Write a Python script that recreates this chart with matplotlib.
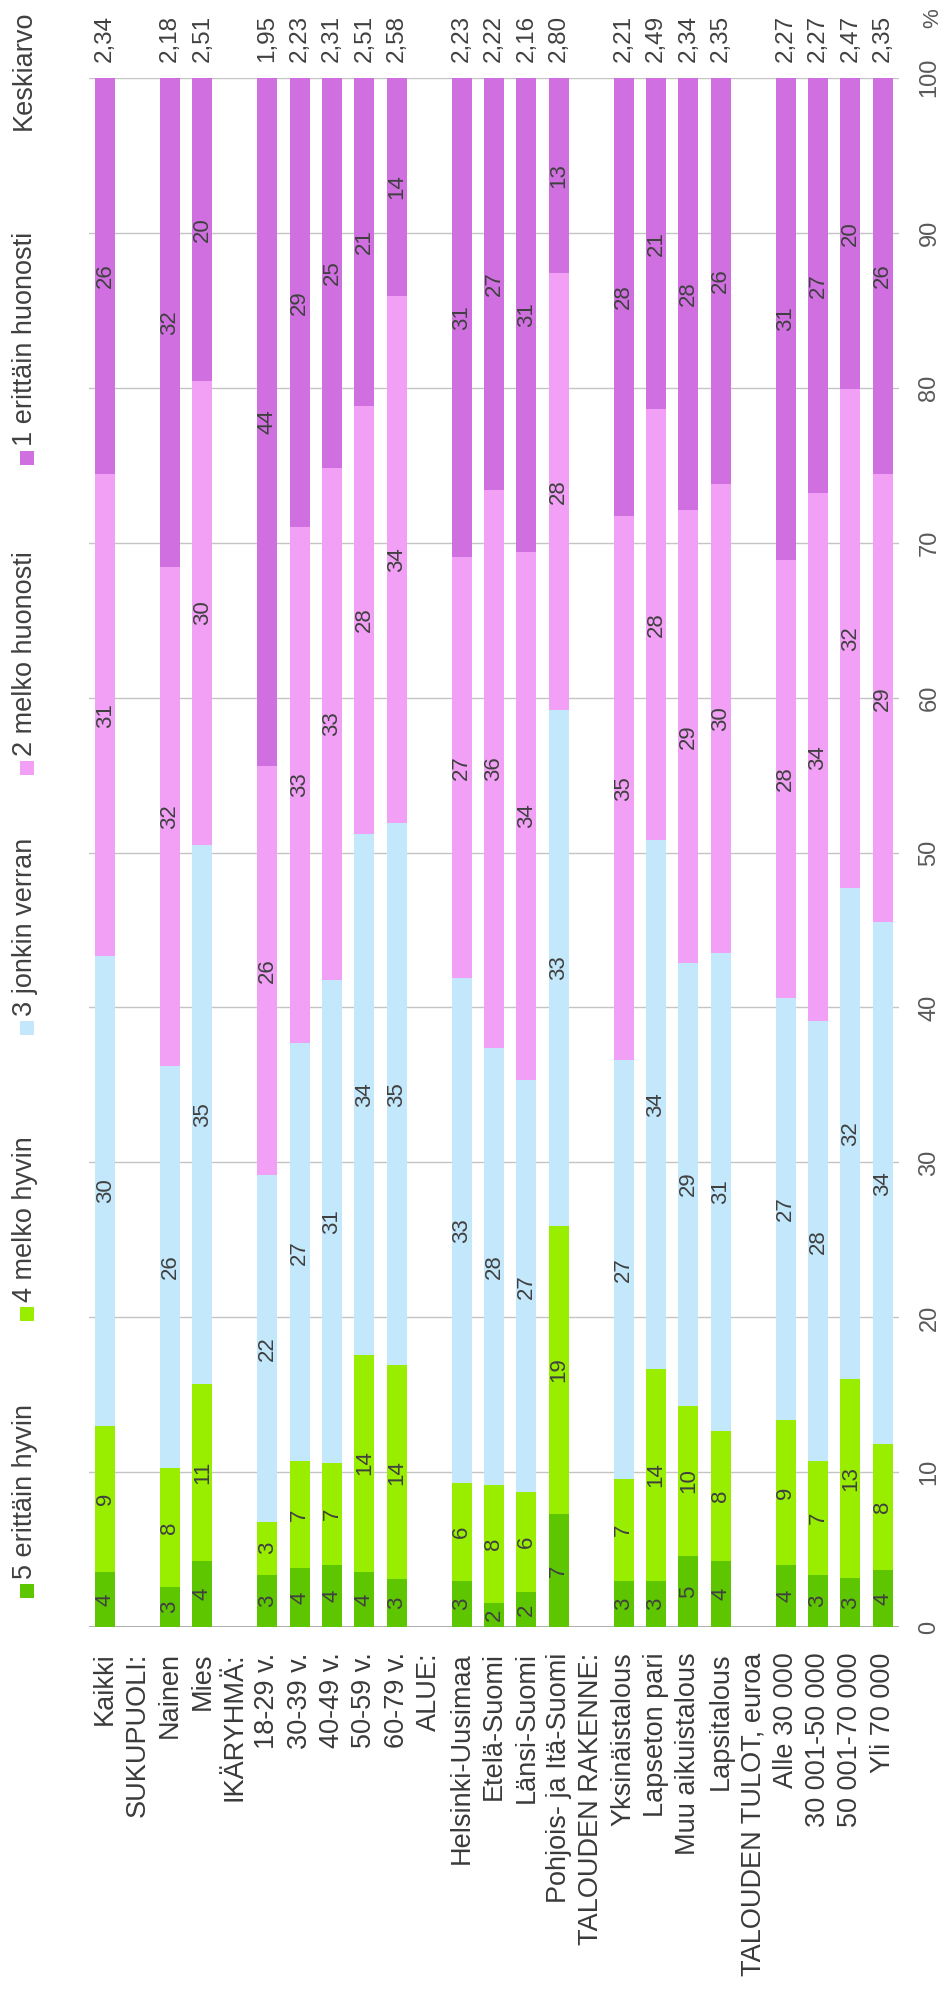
import math
import numpy as np
import matplotlib
matplotlib.use("Agg")
import matplotlib.pyplot as plt
import matplotlib.transforms as mtransforms
from matplotlib.patches import Rectangle

# ---------------- data ----------------
categories = ["Kaikki", "SUKUPUOLI:", "Nainen", "Mies", "IKÄRYHMÄ:",
              "18-29 v.", "30-39 v.", "40-49 v.", "50-59 v.", "60-79 v.",
              "ALUE:", "Helsinki-Uusimaa", "Etelä-Suomi", "Länsi-Suomi",
              "Pohjois- ja Itä-Suomi", "TALOUDEN RAKENNE:", "Yksinäistalous",
              "Lapseton pari", "Muu aikuistalous", "Lapsitalous",
              "TALOUDEN TULOT, euroa", "Alle 30 000", "30 001-50 000",
              "50 001-70 000", "Yli 70 000"]
nan = float("nan")
s5 = [3.6, nan, 2.6, 4.3, nan, 3.4, 3.8, 4.0, 3.6, 3.1, nan, 3.0, 1.6, 2.3, 7.3,
      nan, 3.0, 3.0, 4.6, 4.3, nan, 4.0, 3.4, 3.2, 3.7]
s4 = [9.4, nan, 7.7, 11.4, nan, 3.4, 6.9, 6.6, 14.0, 13.8, nan, 6.3, 7.6, 6.4, 18.6,
      nan, 6.6, 13.7, 9.7, 8.4, nan, 9.4, 7.3, 12.8, 8.1]
s3 = [30.3, nan, 25.9, 34.8, nan, 22.4, 27.0, 31.2, 33.6, 35.0, nan, 32.6, 28.2, 26.6, 33.3,
      nan, 27.0, 34.1, 28.6, 30.8, nan, 27.2, 28.4, 31.7, 33.7]
s2 = [31.1, nan, 32.2, 29.9, nan, 26.4, 33.3, 33.0, 27.6, 34.0, nan, 27.2, 36.0, 34.1, 28.2,
      nan, 35.1, 27.8, 29.2, 30.3, nan, 28.3, 34.1, 32.2, 28.9]
s1 = [25.6, nan, 31.6, 19.6, nan, 44.4, 29.0, 25.2, 21.2, 14.1, nan, 30.9, 26.6, 30.6, 12.6,
      nan, 28.3, 21.4, 27.9, 26.2, nan, 31.1, 26.8, 20.1, 25.6]
means = [2.34, nan, 2.18, 2.51, nan, 1.95, 2.23, 2.31, 2.51, 2.58, nan, 2.23, 2.22, 2.16, 2.80,
         nan, 2.21, 2.49, 2.34, 2.35, nan, 2.27, 2.27, 2.47, 2.35]
series_names = ["5 erittäin hyvin", "4 melko hyvin", "3 jonkin verran",
                "2 melko huonosti", "1 erittäin huonosti"]
series = [s5, s4, s3, s2, s1]
colors = ["#5EC600", "#99EE00", "#C4E8FB", "#F2A0F6", "#D070E0"]
value_ticks = [0, 10, 20, 30, 40, 50, 60, 70, 80, 90, 100]

# ---------------- figure ----------------
W, H = 942, 2002
DPI = 100
FONT = "Liberation Sans"
plt.rcParams["font.family"] = [FONT, "DejaVu Sans"]

fig = plt.figure(figsize=(W / DPI, H / DPI), dpi=DPI)


def fx(px):
    return px / W


def fy(py):
    return 1 - py / H


ax_l, ax_r, ax_t, ax_b = 89, 899, 77.7, 1627.3
ax = fig.add_axes([fx(ax_l), fy(ax_b), (ax_r - ax_l) / W, (ax_b - ax_t) / H])

n = len(categories)
x = np.arange(n)
bottom = np.zeros(n)
label_color = "#404040"
for vals, col in zip(series, colors):
    v = np.array(vals, dtype=float)
    valid = ~np.isnan(v)
    ax.bar(x[valid], v[valid], bottom=bottom[valid], width=0.62, color=col,
           linewidth=0, zorder=2)
    for i in np.where(valid)[0]:
        ax.text(x[i], bottom[i] + v[i] / 2, "%d" % math.floor(v[i] + 0.5),
                rotation=90, ha="center", va="center", fontsize=16,
                color=label_color, zorder=3)
    bottom[valid] += v[valid]

ax.set_xlim(-0.5, n - 0.5)
ax.set_ylim(0, 100)
ax.set_yticks(value_ticks)
ax.set_yticklabels([str(t) for t in value_ticks], rotation=90, va="center",
                   ha="left", fontsize=17, color="#595959")
ax.yaxis.tick_right()
ax.tick_params(axis="y", length=0, pad=14)
ax.set_xticks(x)
ax.set_xticklabels(categories, rotation=90, ha="center", va="top",
                   fontsize=19.5, color="#3a3a3a")
ax.tick_params(axis="x", length=0, pad=18)
for sp in ax.spines.values():
    sp.set_visible(False)
ax.grid(axis="y", color="#C4C4C4", linewidth=1.0, zorder=0)
ax.grid(axis="x", visible=False)
ax.axhline(0, color="#A8A8A8", linewidth=1.3, zorder=1)
ax.set_axisbelow(True)

# mean values above the bars
trans = mtransforms.offset_copy(ax.get_xaxis_transform(), fig=fig, x=0, y=16,
                                units="dots")
for i, m in enumerate(means):
    if not np.isnan(m):
        ax.text(x[i], 1.0, ("%.2f" % m).replace(".", ","), transform=trans,
                rotation=90, ha="center", va="bottom", fontsize=17.5,
                color=label_color)

# header of mean column
fig.text(fx(24), fy(130), "Keskiarvo", rotation=90, ha="center", va="bottom",
         fontsize=19.5, color=label_color)
fig.text(fx(933), fy(8), "%", rotation=90, ha="center", va="top",
         fontsize=16, color="#595959")

# legend (rotated)
marker_y = [1591, 1314, 1028, 768, 458]
msize = 14
for name, col, my in zip(series_names, colors, marker_y):
    fig.patches.append(Rectangle((fx(27 - msize / 2), fy(my + msize / 2)),
                                 msize / W, msize / H, transform=fig.transFigure,
                                 facecolor=col, edgecolor="none"))
    fig.text(fx(25), fy(my - 12), name, rotation=90, ha="center", va="bottom",
             fontsize=19.5, color=label_color)

fig.savefig("out.png", dpi=DPI, facecolor="white")
